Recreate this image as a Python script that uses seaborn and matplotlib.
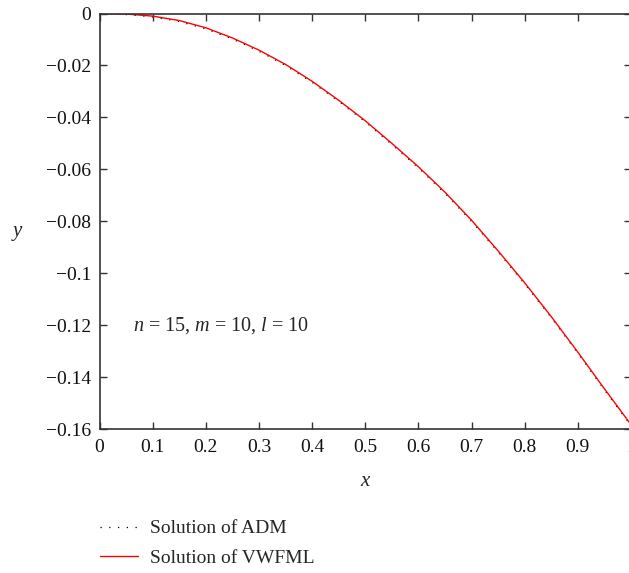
import numpy as np
import pandas as pd
import seaborn as sns
import matplotlib.pyplot as plt
from matplotlib.lines import Line2D

# values
x_vals = [0.0, 0.05, 0.1, 0.15, 0.2, 0.25, 0.3, 0.35, 0.4, 0.45, 0.5,
          0.55, 0.6, 0.65, 0.7, 0.75, 0.8, 0.85, 0.9, 0.95, 1.0]
y_vwfml = [0.0, -0.0002, -0.0010, -0.0027, -0.0055, -0.0094, -0.0141, -0.0196,
           -0.0261, -0.0334, -0.0413, -0.0500, -0.0590, -0.0688, -0.0796,
           -0.0914, -0.1037, -0.1167, -0.1304, -0.1445, -0.1583]
y_adm = [0.0, -0.0004, -0.0013, -0.0031, -0.0059, -0.0098, -0.0145, -0.0200,
         -0.0265, -0.0338, -0.0417, -0.0504, -0.0594, -0.0692, -0.0800,
         -0.0918, -0.1041, -0.1171, -0.1308, -0.1449, -0.1587]

x_ticks = [0, 0.1, 0.2, 0.3, 0.4, 0.5, 0.6, 0.7, 0.8, 0.9, 1.0]
x_tick_labels = ['0', '0.1', '0.2', '0.3', '0.4', '0.5', '0.6', '0.7', '0.8', '0.9', '1']
y_ticks = [0, -0.02, -0.04, -0.06, -0.08, -0.1, -0.12, -0.14, -0.16]
y_tick_labels = ['0', '\u22120.02', '\u22120.04', '\u22120.06', '\u22120.08',
                 '\u22120.1', '\u22120.12', '\u22120.14', '\u22120.16']

df = pd.DataFrame({'x': x_vals, 'adm': y_adm, 'vwfml': y_vwfml})

sns.set_style('ticks')
plt.rcParams['font.family'] = ['Liberation Serif', 'DejaVu Serif']
plt.rcParams['mathtext.fontset'] = 'custom'
plt.rcParams['mathtext.rm'] = 'Liberation Serif'
plt.rcParams['mathtext.it'] = 'Liberation Serif:italic'

fig = plt.figure(figsize=(6.29, 5.73), dpi=100)
# axes runs a little past the right edge, like the reference
ax = fig.add_axes([0.1583, 0.2513, 0.8448, 0.7251])

sns.lineplot(data=df, x='x', y='adm', ax=ax, color='black',
             linestyle=(0, (1, 6)), linewidth=0.9)
sns.lineplot(data=df, x='x', y='vwfml', ax=ax, color='#ff0000', linewidth=1.0)

ax.set_xlim(0, 1)
ax.set_ylim(-0.16, 0)
ax.set_xticks(x_ticks)
ax.set_xticklabels(x_tick_labels)
ax.set_yticks(y_ticks)
ax.set_yticklabels(y_tick_labels)
ax.tick_params(direction='in', length=5, width=1, color='#333333',
               labelsize=14, top=True, right=True, labelcolor='#111111')
ax.tick_params(axis='x', pad=7.5)
ax.tick_params(axis='y', pad=6)

for side in ['left', 'bottom', 'top', 'right']:
    ax.spines[side].set_visible(True)
    ax.spines[side].set_color('#333333')
    ax.spines[side].set_linewidth(1.2)

ax.set_xlabel('$x$', fontsize=15, labelpad=11)
ax.set_ylabel('$y$', fontsize=15, rotation=0, va='center', ha='center')
ax.yaxis.set_label_coords(-0.155, 0.471)

ax.text(0.063, -0.12, '$n$ = 15, $m$ = 10, $l$ = 10', fontsize=14.5, va='center')

handles = [Line2D([], [], color='black', linestyle=(0, (1, 6)), linewidth=0.9),
           Line2D([], [], color='#ff0000', linewidth=1.0)]
fig.legend(handles, ['Solution of ADM', 'Solution of VWFML'],
           loc='upper left', bbox_to_anchor=(0.159, 0.093), frameon=False,
           fontsize=14, handlelength=1.95, handletextpad=0.6, labelspacing=0.62,
           borderpad=0, borderaxespad=0)

fig.savefig('out.png', dpi=100)
